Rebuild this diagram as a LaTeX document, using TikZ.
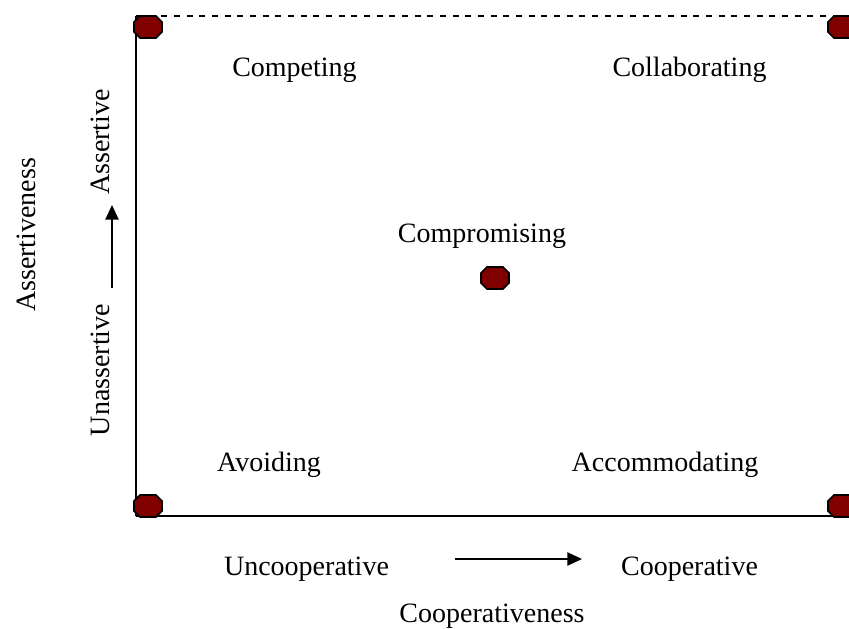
\documentclass[tikz,border=0pt]{standalone}
\usepackage{fontspec}
\setmainfont{Liberation Serif}
\usetikzlibrary{arrows.meta}
\tikzset{
  octo/.pic={\draw[draw=black, line width=1.3pt, fill=red!50!black, line join=miter]
    (-14,-5) -- (-8,-11) -- (8,-11) -- (14,-5) -- (14,5) -- (8,11) -- (-8,11) -- (-14,5) -- cycle;},
  lbl/.style={font=\fontsize{21}{25}\selectfont, inner sep=0pt},
  axis/.style={line width=1.1pt},
  arr/.style={line width=1.1pt, -{Triangle[length=11pt,width=10pt]}}
}
\begin{document}
\begin{tikzpicture}[x=0.75pt,y=-0.75pt]
\useasboundingbox (0,0) rectangle (849,628);
\coordinate (TL) at (136,16);
\coordinate (TR) at (849,16);
\coordinate (BL) at (136,516);
\coordinate (BR) at (849,516);
\draw[axis, dash pattern=on 4.5pt off 5pt] (TL) -- (TR);
\draw[axis] (TL) -- (BL);
\draw[axis] (BL) -- (BR);
\coordinate (m1) at (148,27);
\coordinate (m2) at (842,27);
\coordinate (m3) at (495,278);
\coordinate (m4) at (148,506);
\coordinate (m5) at (842,506);
\foreach \m in {m1,m2,m3,m4,m5} \pic at (\m) {octo};
\node[lbl] (competing) at (294.5,70) {Competing};
\node[lbl] (collab) at (689.5,70) {Collaborating};
\node[lbl] (compro) at (482,236) {Compromising};
\node[lbl] (avoid) at (269,465) {Avoiding};
\node[lbl] (accom) at (665,465) {Accommodating};
\node[lbl] (uncoop) at (306.5,569) {Uncooperative};
\node[lbl] (coop) at (689.5,569) {Cooperative};
\node[lbl] (coopness) at (492,616) {Cooperativeness};
\node[lbl, rotate=90] (assness) at (26,235) {Assertiveness};
\node[lbl, rotate=90] (ass) at (100,142) {Assertive};
\node[lbl, rotate=90] (unass) at (100,370) {Unassertive};
\coordinate (ha) at (455,559);
\coordinate (hb) at (582,559);
\coordinate (va) at (112,288);
\coordinate (vb) at (112,205);
\draw[arr] (ha) -- (hb);
\draw[arr] (va) -- (vb);
\end{tikzpicture}
\end{document}
